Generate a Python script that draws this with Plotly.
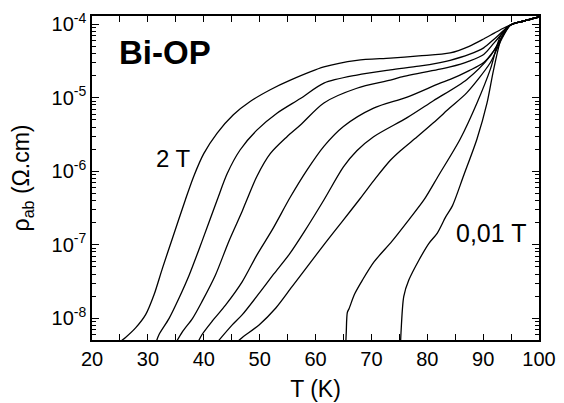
import numpy as np
import plotly.graph_objects as go

# Temperature (K) and log10(rho_ab / Ohm.cm), one list pair per field
T_2T = [25.0, 26.0, 27.8, 29.6, 31.1, 32.6, 34.4, 36.7, 38.2, 40.0, 42.4, 45.3, 48.3, 51.9, 55.5, 61.5, 67.4, 73.4, 78.5, 84.1, 87.5, 90.1, 92.0, 93.7, 94.9, 97.3, 100.0]
L_2T = [-8.32, -8.26, -8.13, -7.95, -7.68, -7.32, -6.91, -6.39, -6.07, -5.76, -5.48, -5.23, -5.05, -4.89, -4.76, -4.58, -4.49, -4.46, -4.43, -4.39, -4.30, -4.20, -4.12, -4.05, -4.01, -3.955, -3.90]

T_1T = [31.5, 32.0, 33.8, 35.6, 37.4, 39.7, 42.4, 44.2, 46.5, 49.5, 53.1, 57.3, 61.5, 67.4, 73.4, 78.5, 82.3, 84.1, 87.5, 90.1, 92.0, 94.9, 97.3, 100.0]
L_1T = [-8.32, -8.22, -8.00, -7.72, -7.41, -6.95, -6.39, -6.03, -5.71, -5.44, -5.21, -5.01, -4.80, -4.69, -4.62, -4.57, -4.52, -4.49, -4.41, -4.32, -4.20, -4.01, -3.955, -3.90]

T_05T = [35.1, 36.2, 38.0, 39.7, 42.1, 44.5, 46.9, 47.7, 49.5, 51.9, 54.9, 57.3, 61.5, 67.4, 73.4, 75.2, 82.3, 84.1, 87.5, 90.1, 92.0, 94.9, 97.3, 100.0]
L_05T = [-8.32, -8.18, -8.00, -7.77, -7.41, -6.95, -6.54, -6.39, -6.07, -5.76, -5.53, -5.37, -5.07, -4.87, -4.76, -4.72, -4.61, -4.58, -4.50, -4.41, -4.25, -4.01, -3.955, -3.90]

T_02T = [39.0, 39.7, 41.5, 43.9, 46.9, 49.5, 52.3, 55.5, 58.5, 61.5, 65.0, 70.4, 76.4, 82.3, 84.1, 87.5, 90.1, 92.0, 94.9, 97.3, 100.0]
L_02T = [-8.32, -8.22, -8.04, -7.82, -7.50, -7.14, -6.79, -6.35, -5.98, -5.66, -5.39, -5.14, -4.99, -4.80, -4.75, -4.63, -4.52, -4.35, -4.01, -3.955, -3.90]

T_01T = [42.7, 45.1, 46.9, 50.0, 52.5, 55.3, 58.0, 61.5, 65.0, 67.4, 70.4, 76.4, 81.1, 87.1, 91.3, 93.0, 94.9, 97.3, 100.0]
L_01T = [-8.30, -8.09, -7.95, -7.65, -7.40, -7.13, -6.82, -6.39, -5.94, -5.72, -5.53, -5.27, -5.04, -4.75, -4.43, -4.22, -4.01, -3.955, -3.90]

T_005T = [46.0, 46.9, 49.9, 52.9, 55.8, 58.8, 61.8, 64.8, 68.0, 70.8, 73.4, 75.2, 78.2, 81.1, 84.0, 87.1, 91.3, 93.0, 94.9, 97.3, 100.0]
L_005T = [-8.32, -8.26, -8.09, -7.86, -7.57, -7.27, -6.97, -6.68, -6.37, -6.09, -5.85, -5.72, -5.53, -5.34, -5.14, -4.93, -4.52, -4.25, -4.01, -3.955, -3.90]

T_002T = [65.35, 65.5, 65.7, 66.0, 67.0, 68.4, 70.5, 73.7, 76.7, 79.4, 82.0, 85.9, 88.9, 91.3, 93.1, 94.9, 97.3, 100.0]
L_002T = [-8.50, -8.20, -7.92, -7.87, -7.67, -7.48, -7.23, -6.95, -6.66, -6.39, -6.06, -5.56, -5.07, -4.61, -4.16, -4.01, -3.955, -3.90]

T_001T = [75.15, 75.3, 75.8, 76.7, 78.5, 80.3, 81.8, 83.3, 84.5, 86.5, 88.9, 90.7, 91.9, 93.4, 94.9, 97.3, 100.0]
L_001T = [-8.50, -8.20, -7.70, -7.48, -7.21, -6.98, -6.84, -6.62, -6.47, -6.06, -5.56, -5.07, -4.61, -4.16, -4.01, -3.955, -3.90]

curves = [(T_2T, L_2T), (T_1T, L_1T), (T_05T, L_05T), (T_02T, L_02T),
          (T_01T, L_01T), (T_005T, L_005T), (T_002T, L_002T), (T_001T, L_001T)]

x_ticks = [20, 30, 40, 50, 60, 70, 80, 90, 100]
y_decades = [-8, -7, -6, -5, -4]
y_ticktext = ["10<sup>-8</sup>", "10<sup>-7</sup>", "10<sup>-6</sup>", "10<sup>-5</sup>", "10<sup>-4</sup>"]

FONT = "Liberation Sans, Arial, sans-serif"

fig = go.Figure()
for T, L in curves:
    fig.add_trace(go.Scatter(x=T, y=10 ** np.array(L), mode="lines",
                             line=dict(color="black", width=1.3, shape="spline", smoothing=0.8),
                             showlegend=False, hoverinfo="skip"))

y_minor = [m * 10.0 ** d for d in range(-9, -3) for m in range(2, 10)]
x_minor = [25, 35, 45, 55, 65, 75, 85, 95]

fig.update_xaxes(range=[20, 100], tickvals=x_ticks, ticks="inside", ticklen=6, tickwidth=1,
                 tickcolor="black", showline=True, linecolor="black", linewidth=1.5,
                 mirror="allticks", showgrid=False, zeroline=False, automargin=False,
                 tickfont=dict(family=FONT, size=20, color="black"),
                 minor=dict(tickvals=x_minor, ticks="inside", ticklen=6, tickcolor="black", showgrid=False),
                 title=dict(text="T (K)", font=dict(family=FONT, size=23, color="black"), standoff=12))

fig.update_yaxes(type="log", range=[-8.295, -3.887],
                 tickvals=[10.0 ** d for d in y_decades], ticktext=y_ticktext,
                 ticks="inside", ticklen=7, tickwidth=1, tickcolor="black",
                 showline=True, linecolor="black", linewidth=1.5, mirror="allticks",
                 showgrid=False, zeroline=False, automargin=False,
                 tickfont=dict(family=FONT, size=20, color="black"),
                 minor=dict(tickvals=y_minor, ticks="inside", ticklen=4, tickcolor="black", showgrid=False),
                 title=dict(text="ρ<sub>ab</sub> (Ω.cm)", font=dict(family=FONT, size=23, color="black"), standoff=15))

fig.add_annotation(x=24.5, y=-4.377, xref="x", yref="y", text="<b>Bi-OP</b>", showarrow=False,
                   xanchor="left", yanchor="middle", font=dict(family=FONT, size=33, color="black"))
fig.add_annotation(x=34.55, y=-5.826, xref="x", yref="y", text="2 T", showarrow=False,
                   xanchor="center", yanchor="middle", font=dict(family=FONT, size=24, color="black"))
fig.add_annotation(x=91.4, y=-6.84, xref="x", yref="y", text="0,01 T", showarrow=False,
                   xanchor="center", yanchor="middle", font=dict(family=FONT, size=25, color="black"))

fig.update_layout(width=564, height=403, margin=dict(l=92, r=25, t=16, b=63),
                  plot_bgcolor="white", paper_bgcolor="white",
                  font=dict(family=FONT, color="black"))

fig.write_html("out.html", config={"displayModeBar": False},
               post_script="document.body.style.margin='0px';")
